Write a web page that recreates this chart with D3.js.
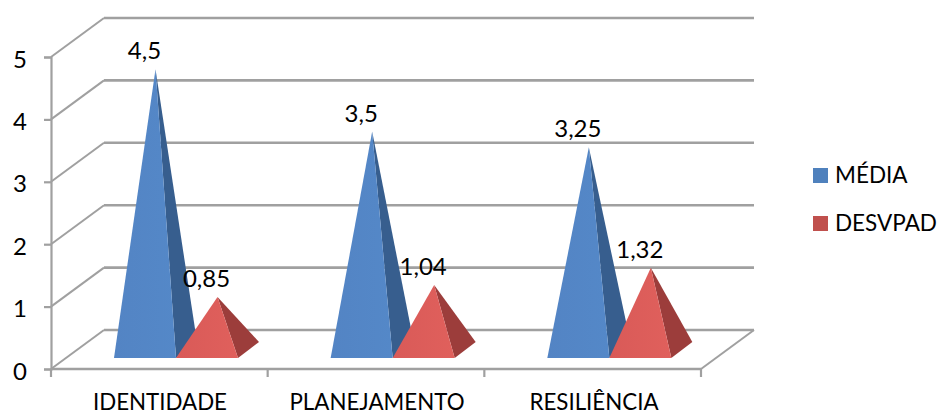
<!DOCTYPE html>
<html>
<head>
<meta charset="utf-8">
<script src="https://cdn.jsdelivr.net/npm/d3@7/dist/d3.min.js"></script>
<style>
html,body{margin:0;padding:0;background:#fff;overflow:hidden}
svg{display:block}
text{font-family:Lato,"Open Sans",sans-serif;fill:#000}
</style>
</head>
<body>
<svg id="chart" width="938" height="413"></svg>
<script>
const categories = ["IDENTIDADE", "PLANEJAMENTO", "RESILIÊNCIA"];
const seriesNames = ["MÉDIA", "DESVPAD"];
const media = [4.5, 3.5, 3.25];
const desvpad = [0.85, 1.04, 1.32];
const valueLabels = [["4,5", "3,5", "3,25"], ["0,85", "1,04", "1,32"]];
const yTicks = [0, 1, 2, 3, 4, 5];
const frontColors = [["#5488c8", "#5384c4"], ["#e0605c", "#d95a58"]];
const sideColors = ["#375e8e", "#9c3d3b"];
const legendColors = ["#4f81bd", "#c0504d"];

const svg = d3.select("#chart");
const gridColor = "#a0a0a0";

// Plot frame and oblique wall offset of the 3D projection
const plot = {left: 51, right: 701, bottom: 369, top: 57};
const wall = {dx: 53, dy: -39};
const y = d3.scaleLinear().domain([0, 5]).range([plot.bottom, plot.top]);
const x = d3.scaleBand().domain(categories).range([plot.left, plot.right]);

// Pyramid footprint inside a category: width of a front edge and its receding offset
const pyramid = {width: 62, inset: 63, baseRaise: 11, depthX: 21, depthY: -16};

// Gradients for the lit front faces
const defs = svg.append("defs");
frontColors.forEach((c, i) => {
  const g = defs.append("linearGradient").attr("id", "front" + i)
    .attr("x1", 0).attr("x2", 1).attr("y1", 0).attr("y2", 0);
  g.append("stop").attr("offset", "0%").attr("stop-color", c[1]);
  g.append("stop").attr("offset", "100%").attr("stop-color", c[0]);
});

// Back wall gridlines and their diagonals along the left wall
const grid = svg.append("g").attr("fill", "none").attr("stroke", gridColor);
grid.selectAll(".back").data(yTicks).join("line")
  .attr("x1", d => plot.left + wall.dx).attr("x2", plot.right + wall.dx)
  .attr("y1", d => y(d) + wall.dy).attr("y2", d => y(d) + wall.dy)
  .attr("stroke-width", 2.6);
grid.selectAll(".side").data(yTicks).join("line")
  .attr("x1", plot.left).attr("y1", d => y(d))
  .attr("x2", plot.left + wall.dx).attr("y2", d => y(d) + wall.dy)
  .attr("stroke-width", 2);
grid.append("line")
  .attr("x1", plot.right).attr("y1", y(0))
  .attr("x2", plot.right + wall.dx).attr("y2", y(0) + wall.dy)
  .attr("stroke-width", 2);

// Value axis
const yAxis = svg.append("g").attr("transform", `translate(${plot.left},0)`)
  .call(d3.axisLeft(y).tickValues(yTicks).tickFormat(d3.format("d")).tickSize(7).tickPadding(17));
yAxis.select(".domain").attr("stroke", gridColor).attr("stroke-width", 2.2);
yAxis.selectAll(".tick line").attr("stroke", gridColor).attr("stroke-width", 2.2);
yAxis.selectAll("text").attr("font-size", 24).attr("dy", "0.42em").style("font-family", "Lato,sans-serif");

// Category axis with separators between categories
const xAxis = svg.append("g").attr("transform", `translate(0,${plot.bottom})`);
xAxis.append("line").attr("x1", plot.left).attr("x2", plot.right)
  .attr("stroke", gridColor).attr("stroke-width", 2.6);
const edges = [plot.left, ...categories.map(c => x(c) + x.bandwidth())];
xAxis.selectAll(".sep").data(edges).join("line")
  .attr("x1", d => d).attr("x2", d => d).attr("y1", 0).attr("y2", 8)
  .attr("stroke", gridColor).attr("stroke-width", 2.2);
xAxis.selectAll(".cat").data(categories).join("text")
  .attr("x", (d, i) => [160, 377, 594][i]).attr("y", 41)
  .attr("text-anchor", "middle").attr("font-size", 22.3).text(d => d);

// Pyramids: side face first, then the front face; labels go on last
const series = [media, desvpad];
const labels = svg.append("g");
series.forEach((values, s) => {
  const g = svg.append("g");
  values.forEach((v, i) => {
    const x0 = x(categories[i]) + pyramid.inset + s * pyramid.width;
    const x1 = x0 + pyramid.width;
    const yBase = y(0) - pyramid.baseRaise;
    const apexX = (x0 + x1) / 2 + pyramid.depthX / 2;
    const apexY = yBase + pyramid.depthY / 2 - (y(0) - y(v));
    g.append("path")
      .attr("d", d3.line()([[x1, yBase], [x1 + pyramid.depthX, yBase + pyramid.depthY], [apexX, apexY]]))
      .attr("fill", sideColors[s]);
    g.append("path")
      .attr("d", d3.line()([[x0, yBase], [x1, yBase], [apexX, apexY]]))
      .attr("fill", `url(#front${s})`);
    labels.append("text")
      .attr("x", apexX - 11).attr("y", apexY - 10)
      .attr("text-anchor", "middle").attr("font-size", 24)
      .text(valueLabels[s][i]);
  });
});
labels.raise();

// Legend
const legend = svg.append("g");
seriesNames.forEach((name, i) => {
  const ly = 168 + i * 48;
  legend.append("rect").attr("x", 813).attr("y", ly).attr("width", 15).attr("height", 15)
    .attr("fill", legendColors[i]);
  legend.append("text").attr("x", 835).attr("y", ly + 15)
    .attr("font-size", 22.5).text(name);
});
</script>
</body>
</html>
